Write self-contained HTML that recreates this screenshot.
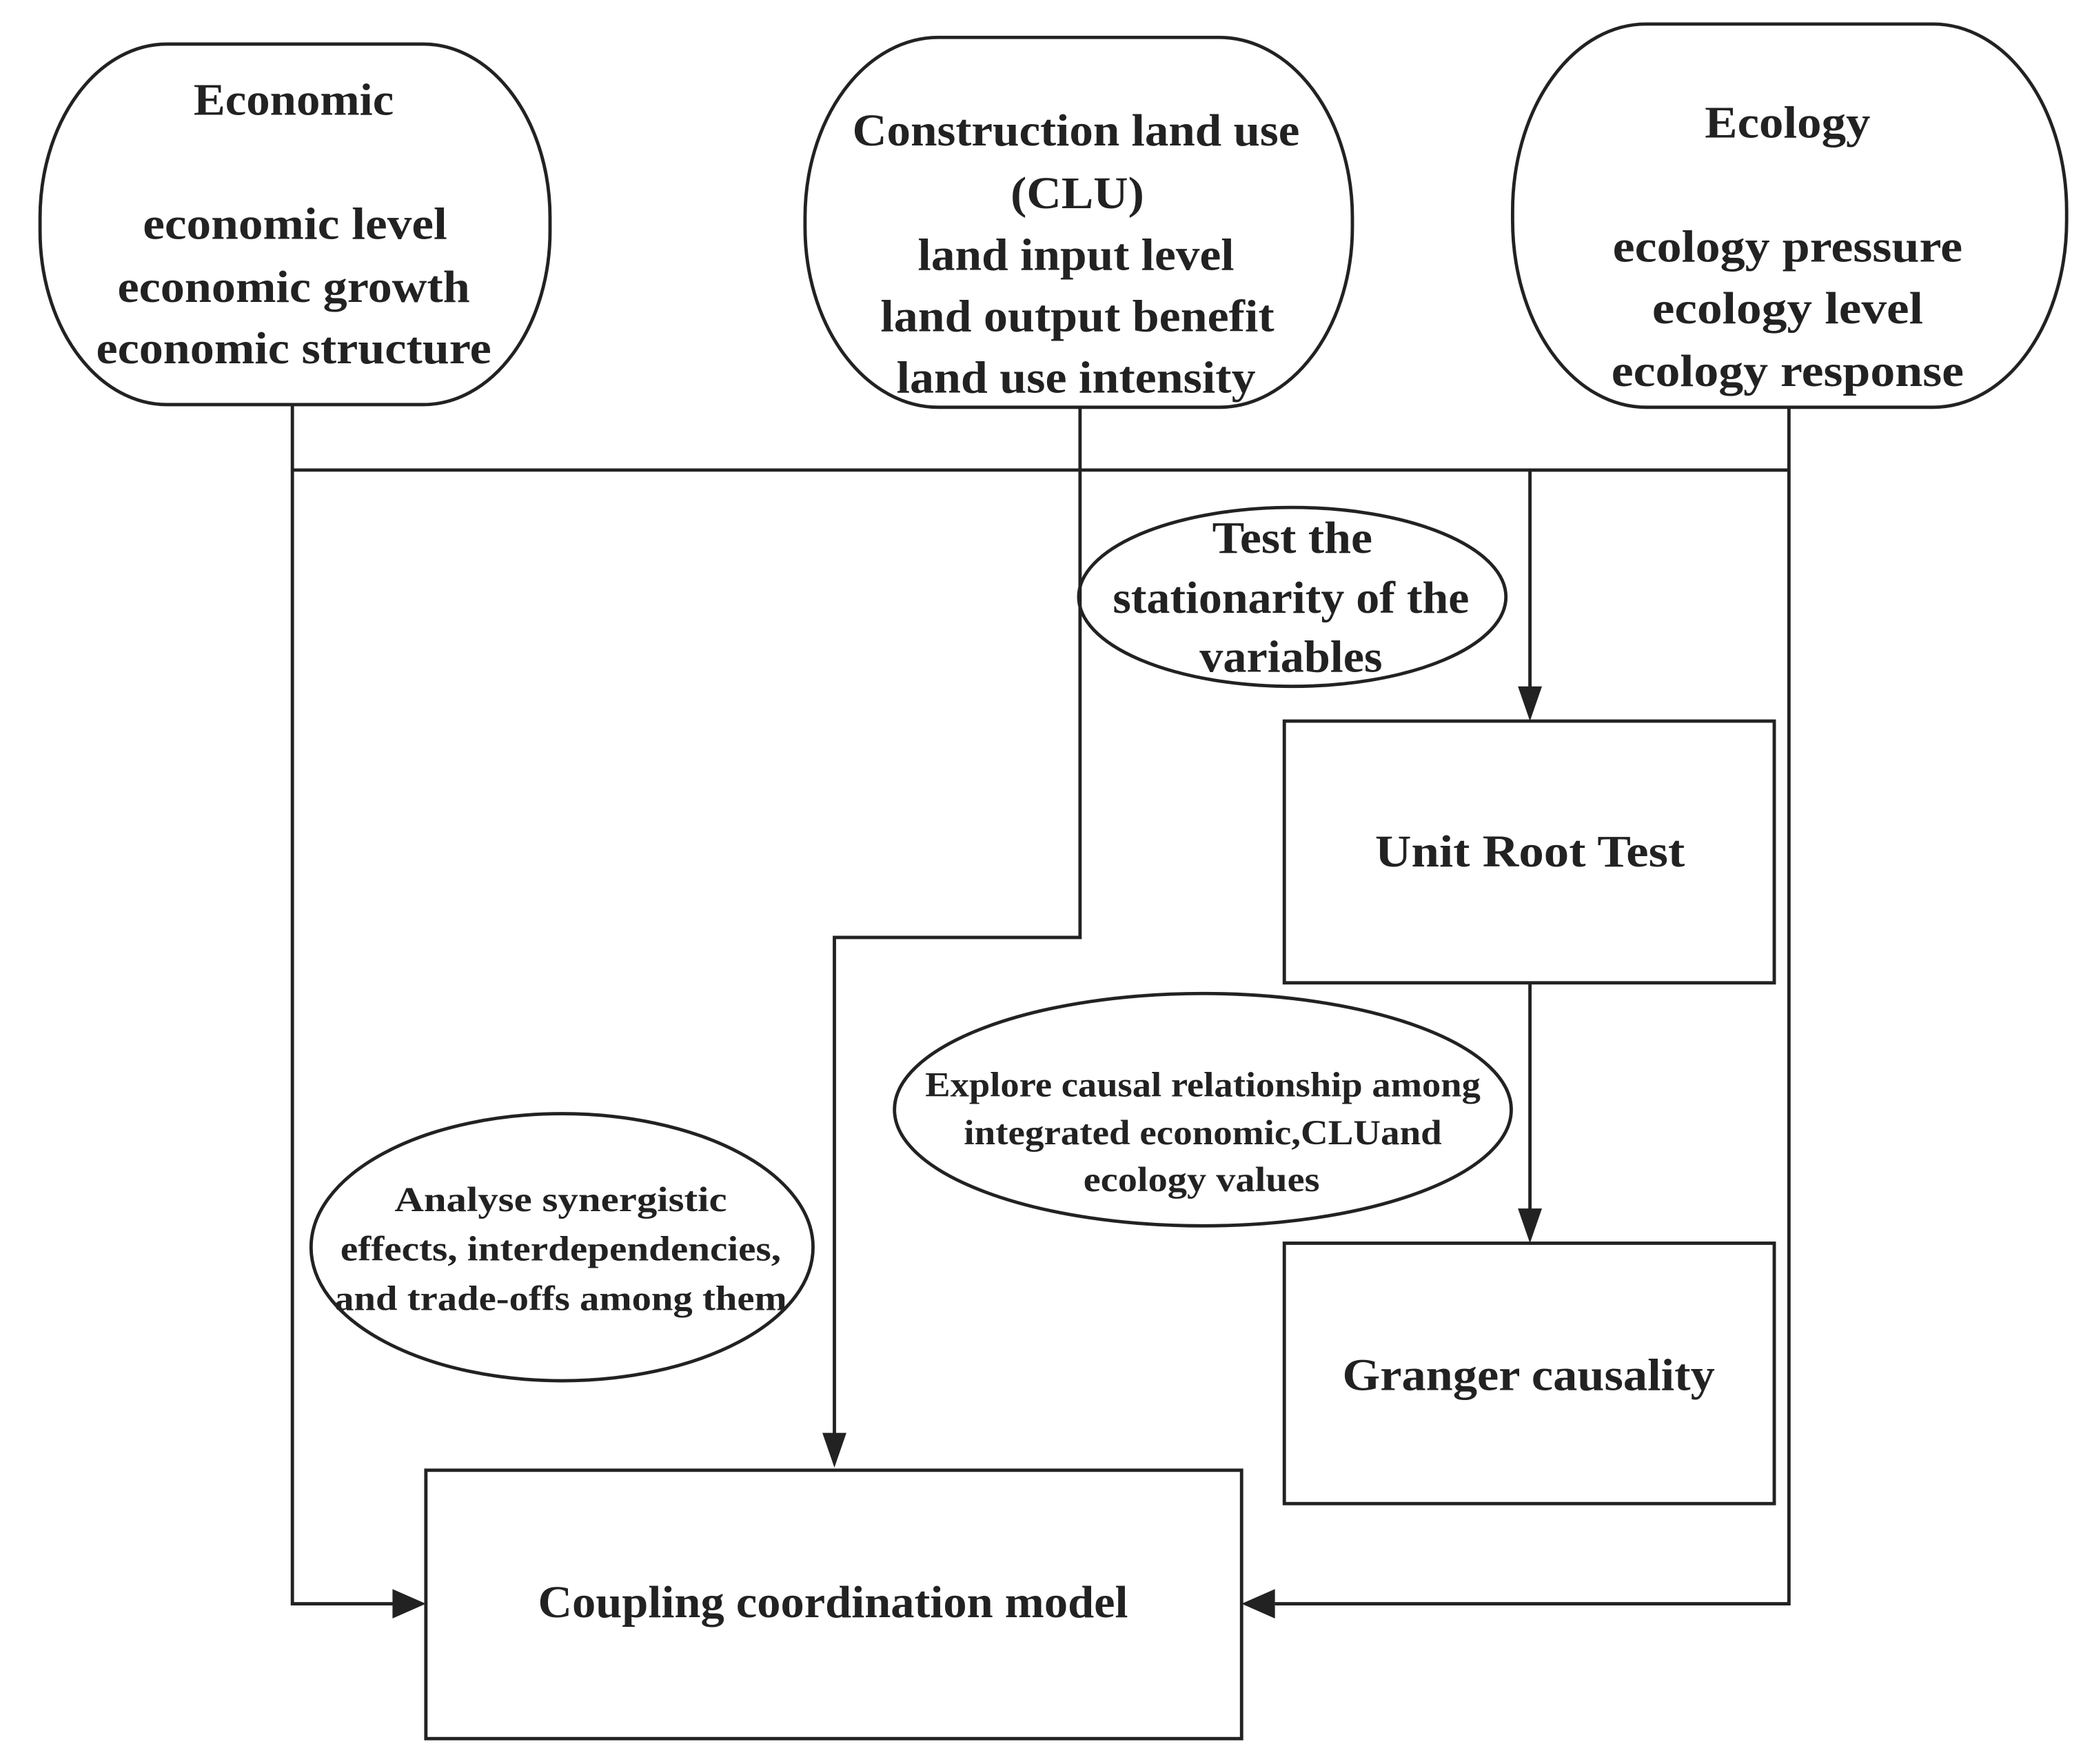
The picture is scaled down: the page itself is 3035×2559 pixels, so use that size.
<!DOCTYPE html>
<html><head><meta charset="utf-8"><style>
html,body{margin:0;padding:0;background:#fff;}
svg{display:block;}
text{font-family:"Liberation Serif",serif;font-weight:bold;fill:#222;text-anchor:middle;}
</style></head><body>
<svg width="3035" height="2559" viewBox="0 0 1567 1321" preserveAspectRatio="none" xmlns="http://www.w3.org/2000/svg">
<g fill="none" stroke="#222" stroke-width="2.5">
<rect x="30" y="33" width="382" height="270" rx="95" ry="130"/>
<rect x="603" y="28" width="410" height="277" rx="100" ry="135"/>
<rect x="1133" y="18" width="415" height="287" rx="100" ry="140"/>
<ellipse cx="968" cy="447" rx="160" ry="67"/>
<ellipse cx="901" cy="831" rx="231" ry="87"/>
<ellipse cx="421" cy="934" rx="188" ry="100"/>
<rect x="962" y="540" width="367" height="196"/>
<rect x="962" y="931" width="367" height="195"/>
<rect x="319" y="1101" width="611" height="201"/>
<polyline points="219,303 219,1201 296,1201"/>
<line x1="219" y1="352" x2="1340" y2="352"/>
<polyline points="1340,305 1340,1201 955,1201"/>
<polyline points="1340,352 1146,352 1146,516"/>
<polyline points="809,305 809,702 625,702 625,1075"/>
<line x1="1146" y1="736" x2="1146" y2="907"/>
</g>
<g fill="#222">
<polygon points="294,1190 319,1201 294,1212"/>
<polygon points="955,1190 930,1201 955,1212"/>
<polygon points="1137,514 1146,540 1155,514"/>
<polygon points="1137,905 1146,931 1155,905"/>
<polygon points="616,1073 625,1099 634,1073"/>
</g>
<g font-size="34">
<text x="220" y="86" textLength="150" lengthAdjust="spacingAndGlyphs">Economic</text>
<text x="221" y="179" textLength="228" lengthAdjust="spacingAndGlyphs">economic level</text>
<text x="220" y="226" textLength="264" lengthAdjust="spacingAndGlyphs">economic growth</text>
<text x="220" y="272" textLength="296" lengthAdjust="spacingAndGlyphs">economic structure</text>
<text x="806" y="109" textLength="335" lengthAdjust="spacingAndGlyphs">Construction land use</text>
<text x="807" y="156" textLength="100" lengthAdjust="spacingAndGlyphs">(CLU)</text>
<text x="806" y="202" textLength="237" lengthAdjust="spacingAndGlyphs">land input level</text>
<text x="807" y="248" textLength="295" lengthAdjust="spacingAndGlyphs">land output benefit</text>
<text x="806" y="294" textLength="269" lengthAdjust="spacingAndGlyphs">land use intensity</text>
<text x="1339" y="103" textLength="124" lengthAdjust="spacingAndGlyphs">Ecology</text>
<text x="1339" y="196" textLength="262" lengthAdjust="spacingAndGlyphs">ecology pressure</text>
<text x="1339" y="242" textLength="203" lengthAdjust="spacingAndGlyphs">ecology level</text>
<text x="1339" y="289" textLength="264" lengthAdjust="spacingAndGlyphs">ecology response</text>
<text x="968" y="414" textLength="120" lengthAdjust="spacingAndGlyphs">Test the</text>
<text x="967" y="459" textLength="267" lengthAdjust="spacingAndGlyphs">stationarity of the</text>
<text x="967" y="503" textLength="137" lengthAdjust="spacingAndGlyphs">variables</text>
<text x="1146" y="649" textLength="232" lengthAdjust="spacingAndGlyphs">Unit Root Test</text>
<text x="1145" y="1041" textLength="279" lengthAdjust="spacingAndGlyphs">Granger causality</text>
<text x="624" y="1211" textLength="442" lengthAdjust="spacingAndGlyphs">Coupling coordination model</text>
</g>
<g font-size="26">
<text x="901" y="821" textLength="416" lengthAdjust="spacingAndGlyphs">Explore causal relationship among</text>
<text x="901" y="857" textLength="358" lengthAdjust="spacingAndGlyphs">integrated economic,CLUand</text>
<text x="900" y="892" textLength="177" lengthAdjust="spacingAndGlyphs">ecology values</text>
<text x="420" y="907" textLength="249" lengthAdjust="spacingAndGlyphs">Analyse  synergistic</text>
<text x="420" y="944" textLength="330" lengthAdjust="spacingAndGlyphs">effects, interdependencies,</text>
<text x="420" y="981" textLength="339" lengthAdjust="spacingAndGlyphs">and  trade-offs among them</text>
</g>
</svg>
</body></html>
